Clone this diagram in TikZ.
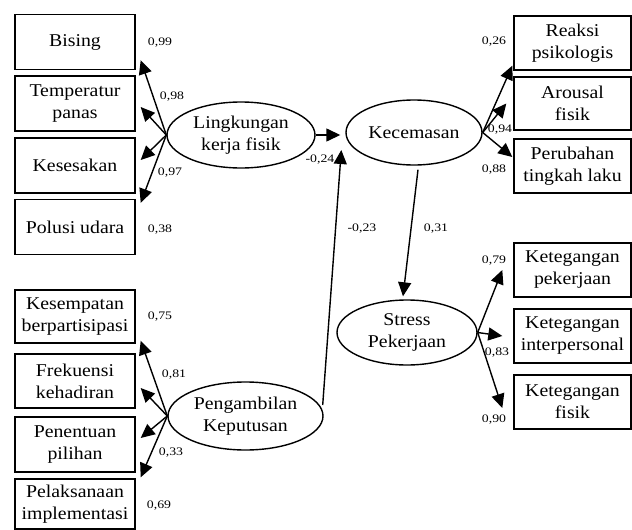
\documentclass[tikz,border=0pt]{standalone}
\usepackage{fontspec}
\setmainfont{Liberation Serif}[FakeStretch=1.1]
\newfontfamily\lblfont{Liberation Serif}[FakeStretch=1.2]
\usetikzlibrary{arrows.meta,shapes.geometric,calc}
\begin{document}
\begin{tikzpicture}[x=1pt,y=-1pt,
 box/.style={draw,line width=1.4pt,minimum width=120pt,minimum height=55pt,inner sep=0pt,align=center,font=\fontsize{18}{22}\selectfont},
 rbox/.style={box,minimum width=117pt,minimum height=54pt},
 lat/.style={ellipse,draw,line width=1.4pt,inner sep=0pt,align=center,font=\fontsize{18}{22}\selectfont},
 arr/.style={line width=1.4pt,-{Triangle[length=14pt,width=13pt]}},
 coef/.style={inner sep=0pt,font=\lblfont\fontsize{11.5}{13}\selectfont}]
\useasboundingbox (0,0) rectangle (632,530);
% left top boxes
\node[box] (bis) at (75,42) {Bising};
\node[box] (tem) at (75,103.5) {Temperatur\\panas};
\node[box] (kes) at (75,165.5) {Kesesakan};
\node[box] (pol) at (75,227) {Polusi udara};
% left bottom boxes
\node[box,minimum height=53pt] (ksp) at (75,316.5) {Kesempatan\\berpartisipasi};
\node[box,minimum height=54pt] (frk) at (75,381) {Frekuensi\\kehadiran};
\node[box] (pen) at (75,444.5) {Penentuan\\pilihan};
\node[box,minimum height=50pt] (pel) at (75,504) {Pelaksanaan\\implementasi};
% right top boxes
\node[rbox] (rea) at (572.5,43) {Reaksi\\psikologis};
\node[rbox,minimum height=53pt] (aro) at (572.5,103.5) {Arousal\\fisik};
\node[rbox] (per) at (572.5,166) {Perubahan\\tingkah laku};
% right bottom boxes
\node[rbox] (kpk) at (572.5,270) {Ketegangan\\pekerjaan};
\node[rbox] (kip) at (572.5,336) {Ketegangan\\interpersonal};
\node[rbox] (kfs) at (572.5,402) {Ketegangan\\fisik};
% latent variables
\node[lat,minimum width=148pt,minimum height=66pt] (lkf) at (241,135) {Lingkungan\\kerja fisik};
\node[lat,minimum width=136pt,minimum height=65pt] (kec) at (414,132.5) {Kecemasan};
\node[lat,minimum width=155pt,minimum height=68pt] (pkp) at (245.5,416) {Pengambilan\\Keputusan};
\node[lat,minimum width=140pt,minimum height=65pt] (str) at (407,332.5) {Stress\\Pekerjaan};
% Lingkungan indicators
\draw[arr] (lkf.west) -- ($(bis.south east)+(5,-10)$);
\draw[arr] (lkf.west) -- ($(tem.east)+(5,3.5)$);
\draw[arr] (lkf.west) -- ($(kes.east)+(5,-5.5)$);
\draw[arr] (lkf.west) -- ($(pol.north east)+(5,4)$);
% Pengambilan indicators
\draw[arr] (pkp.west) -- ($(ksp.south east)+(5,-3)$);
\draw[arr] (pkp.west) -- ($(frk.east)+(5,7)$);
\draw[arr] (pkp.west) -- ($(pen.east)+(5,-6.5)$);
\draw[arr] (pkp.west) -- ($(pel.north east)+(5,-1)$);
% Kecemasan indicators
\draw[arr] (kec.east) -- ($(rea.south west)+(-1,-5)$);
\draw[arr] (kec.east) -- ($(aro.west)+(-7,0)$);
\draw[arr] (kec.east) -- ($(per.west)+(-1,-9)$);
% Stress indicators
\draw[arr] (str.east) -- ($(kpk.west)+(-11,0)$);
\draw[arr] (str.east) -- ($(kip.west)+(-11,0)$);
\draw[arr] (str.east) -- ($(kfs.west)+(-11,6)$);
% structural paths
\draw[arr] (lkf.east) -- ($(kec.west)+(-5,2.5)$);
\draw[arr] ($(pkp.east)+(-1,-11)$) -- ($(kec.west)+(-4,17.5)$);
\draw[arr] ($(kec.south)+(4,4)$) -- ($(str.north)+(-4,-3)$);
% coefficients
\node[coef] (c1) at (160,43) {0,99};
\node[coef] (c2) at (172,97) {0,98};
\node[coef] (c3) at (170,173) {0,97};
\node[coef] (c4) at (160,230) {0,38};
\node[coef] (c5) at (494,42) {0,26};
\node[coef] (c6) at (500,130) {0,94};
\node[coef] (c7) at (494,170) {0,88};
\node[coef] (c8) at (320,160) {-0,24};
\node[coef] (c9) at (362,229) {-0,23};
\node[coef] (c10) at (436,229) {0,31};
\node[coef] (c11) at (494,261) {0,79};
\node[coef] (c12) at (497,353) {0,83};
\node[coef] (c13) at (494,420) {0,90};
\node[coef] (c14) at (160,317) {0,75};
\node[coef] (c15) at (174,375) {0,81};
\node[coef] (c16) at (171,453) {0,33};
\node[coef] (c17) at (159,506) {0,69};
\end{tikzpicture}
\end{document}
